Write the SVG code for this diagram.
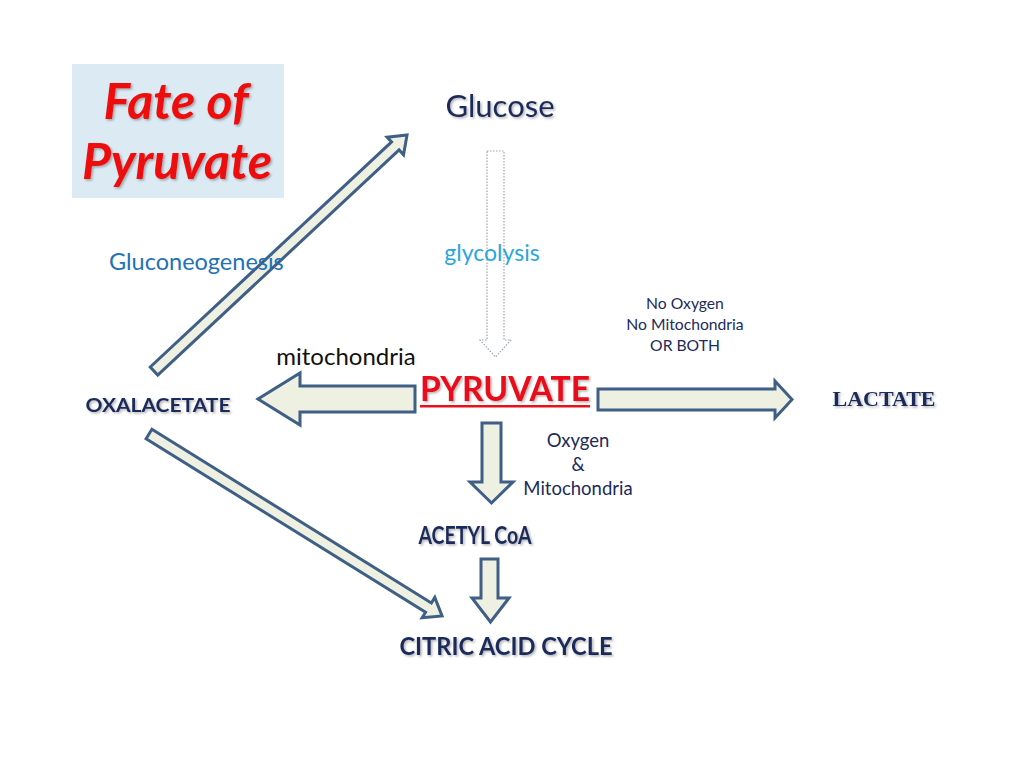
<svg xmlns="http://www.w3.org/2000/svg" width="1024" height="768" viewBox="0 0 1024 768">
<defs>
<style>
.arr{fill:#eef0e1;stroke:#3f5f86;stroke-width:3;stroke-linejoin:miter}
.dot{fill:#ffffff;stroke:#9aa3b3;stroke-width:1.2;stroke-dasharray:1.5 1.5}
.lbl{font-family:Lato,"Open Sans","Liberation Sans",sans-serif}
.node{font-family:Lato,"Open Sans","Liberation Sans",sans-serif;font-weight:bold;fill:#1c2b5a}
.navy{fill:#1c2b5a}
</style>
<filter id="sh" x="-10%" y="-10%" width="130%" height="140%">
<feDropShadow dx="1.5" dy="1.5" stdDeviation="1" flood-color="#000" flood-opacity="0.3"/>
</filter>
</defs>
<rect width="1024" height="768" fill="#ffffff"/>

<g id="title">
<rect x="72" y="64" width="212" height="134" fill="#dbeaf3"/>
<text x="176" y="119" text-anchor="middle" font-family="Lato,'Open Sans','Liberation Sans',sans-serif" font-weight="bold" font-style="italic" font-size="50" fill="#ee1111" filter="url(#sh)">Fate of</text>
<text x="177" y="179" text-anchor="middle" font-family="Lato,'Open Sans','Liberation Sans',sans-serif" font-weight="bold" font-style="italic" font-size="50" fill="#ee1111" filter="url(#sh)">Pyruvate</text>
</g>

<g id="connectors">
<path class="dot" d="M487,151 H504 V340 H511 L495.5,357 L480,340 H487 Z"/>
<path class="arr" transform="translate(154,371) rotate(-43)" d="M0,-5.5 H330 V-12 L346,0 L330,12 V5.5 H0 Z"/>
<path class="arr" transform="translate(149,434) rotate(31.85)" d="M0,-5.5 H329 V-12 L345,0 L329,12 V5.5 H0 Z"/>
<path class="arr" d="M415,386 V412 H300 V425 L258,399 L300,373 V386 Z"/>
<path class="arr" d="M598,389 H775 V381 L792,399.5 L775,418 V410 H598 Z"/>
<path class="arr" d="M482,423 H501 V482 H513 L491.5,503 L470,482 H482 Z"/>
<path class="arr" d="M481,559 H498 V598 H509 L490.5,622 L472,598 H481 Z"/>
</g>

<g id="labels">
<text class="lbl" x="492" y="261" text-anchor="middle" font-size="23" fill="#29a6de">glycolysis</text>
<text class="lbl" x="109" y="270" font-size="23.5" fill="#1f72b8">Gluconeogenesis</text>
<text class="lbl" x="346" y="365" text-anchor="middle" font-size="24" fill="#111111">mitochondria</text>
<text class="lbl navy" x="685" y="309" text-anchor="middle" font-size="15.7">No Oxygen</text>
<text class="lbl navy" x="685" y="330" text-anchor="middle" font-size="15.7">No Mitochondria</text>
<text class="lbl navy" x="685" y="351" text-anchor="middle" font-size="15.7">OR BOTH</text>
<text class="lbl navy" x="578" y="447" text-anchor="middle" font-size="18.5">Oxygen</text>
<text class="lbl navy" x="578" y="471" text-anchor="middle" font-size="18.5">&amp;</text>
<text class="lbl navy" x="578" y="495" text-anchor="middle" font-size="18.5">Mitochondria</text>
</g>

<g id="glucose">
<text x="500" y="117" text-anchor="middle" font-family="Lato,'Open Sans','Liberation Sans',sans-serif" font-size="31" fill="#1c2b5a" filter="url(#sh)">Glucose</text>
</g>
<g id="pyruvate">
<text x="505" y="401" text-anchor="middle" font-family="Lato,'Open Sans','Liberation Sans',sans-serif" font-weight="bold" font-size="35" fill="#e8111a" filter="url(#sh)" textLength="170" lengthAdjust="spacingAndGlyphs">PYRUVATE</text>
<rect x="420" y="405" width="170" height="2.5" fill="#e8111a"/>
</g>
<g id="lactate">
<text x="884" y="406" text-anchor="middle" font-family="'Liberation Serif','Times New Roman',serif" font-weight="bold" font-size="22" fill="#1c2b5a" filter="url(#sh)">LACTATE</text>
</g>
<g id="oxalacetate">
<text class="node" x="158" y="412" text-anchor="middle" font-size="19" filter="url(#sh)" textLength="145" lengthAdjust="spacingAndGlyphs">OXALACETATE</text>
</g>
<g id="acetylcoa">
<text class="node" x="475" y="544" text-anchor="middle" font-size="24" filter="url(#sh)" textLength="113" lengthAdjust="spacingAndGlyphs">ACETYL CoA</text>
</g>
<g id="citric">
<text class="node" x="506" y="655" text-anchor="middle" font-size="24" filter="url(#sh)" textLength="213" lengthAdjust="spacingAndGlyphs">CITRIC ACID CYCLE</text>
</g>
</svg>
